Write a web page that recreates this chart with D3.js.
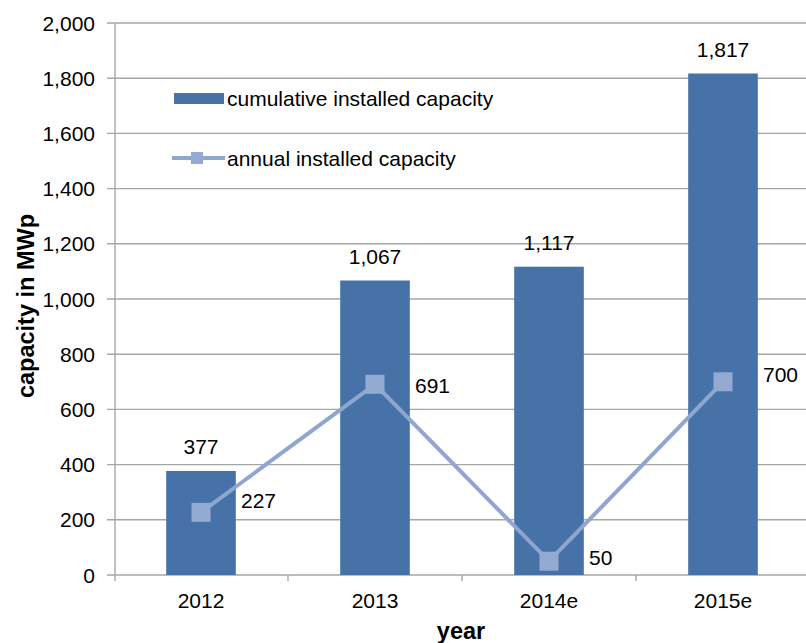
<!DOCTYPE html>
<html>
<head>
<meta charset="utf-8">
<script src="https://cdn.jsdelivr.net/npm/d3@7/dist/d3.min.js"></script>
<style>
  html, body { margin: 0; padding: 0; background: #fff; }
  svg { display: block; font-family: "Liberation Sans", Arial, sans-serif; }
</style>
</head>
<body>
<svg id="chart" width="806" height="643"></svg>
<script>
const categories = ["2012", "2013", "2014e", "2015e"];
const cumulative = [377, 1067, 1117, 1817];
const annual = [227, 691, 50, 700];
const yTicks = [0, 200, 400, 600, 800, 1000, 1200, 1400, 1600, 1800, 2000];
const seriesNames = ["cumulative installed capacity", "annual installed capacity"];

// layout-only nudges for the line value labels (vertical, px)
const lineLabelNudge = [-12, 1, -4, -7];

const barColor = "#4672a7";
const lineColor = "#8fa6cf";
const markerColor = "#93aad3";
const gridColor = "#a6a6a6";
const fs = 21;

const svg = d3.select("#chart");
const pLeft = 114, pRight = 810, pTop = 23, pBottom = 575;

const x = d3.scaleBand().domain(categories).range([pLeft, pRight]).paddingInner(0.6).paddingOuter(0.3);
const xb = d3.scaleBand().domain(categories).range([pLeft, pRight]);
const y = d3.scaleLinear().domain([0, 2000]).range([pBottom, pTop]);
const fmt = d3.format(",");

// gridlines
svg.append("g").selectAll("line").data(yTicks).join("line")
  .attr("x1", pLeft - 7).attr("x2", 806)
  .attr("y1", d => y(d)).attr("y2", d => y(d))
  .attr("stroke", gridColor).attr("stroke-width", 1.4);

// y axis line
svg.append("line").attr("x1", pLeft + 1).attr("x2", pLeft + 1)
  .attr("y1", pTop).attr("y2", pBottom + 6)
  .attr("stroke", gridColor).attr("stroke-width", 1.4);

// x tick marks
svg.append("g").selectAll("line").data(categories.slice(1)).join("line")
  .attr("x1", d => xb(d)).attr("x2", d => xb(d))
  .attr("y1", pBottom).attr("y2", pBottom + 6)
  .attr("stroke", gridColor).attr("stroke-width", 1.4);

// y tick labels
svg.append("g").selectAll("text").data(yTicks).join("text")
  .attr("x", 95).attr("y", d => y(d)).attr("dy", "0.36em")
  .attr("text-anchor", "end").attr("font-size", fs).attr("fill", "#000")
  .text(d => fmt(d));

// x tick labels
svg.append("g").selectAll("text").data(categories).join("text")
  .attr("x", d => xb(d) + xb.bandwidth() / 2).attr("y", 608)
  .attr("text-anchor", "middle").attr("font-size", fs).attr("fill", "#000")
  .text(d => d);

// bars
svg.append("g").selectAll("rect").data(categories).join("rect")
  .attr("x", d => x(d)).attr("width", x.bandwidth())
  .attr("y", (d, i) => y(cumulative[i]))
  .attr("height", (d, i) => pBottom - y(cumulative[i]))
  .attr("fill", barColor);

// bar labels
svg.append("g").selectAll("text").data(categories).join("text")
  .attr("x", d => x(d) + x.bandwidth() / 2)
  .attr("y", (d, i) => y(cumulative[i]) - 17)
  .attr("text-anchor", "middle").attr("font-size", fs).attr("fill", "#000")
  .text((d, i) => fmt(cumulative[i]));

// line
const cx = d => xb(d) + xb.bandwidth() / 2;
const line = d3.line().x(d => cx(d.c)).y(d => y(d.v));
const pts = categories.map((c, i) => ({ c, v: annual[i], i }));
svg.append("path").datum(pts).attr("d", line)
  .attr("fill", "none").attr("stroke", lineColor).attr("stroke-width", 4);

svg.append("g").selectAll("rect").data(pts).join("rect")
  .attr("x", d => cx(d.c) - 9.5).attr("y", d => y(d.v) - 9.5)
  .attr("width", 19).attr("height", 19).attr("fill", markerColor);

// line labels
svg.append("g").selectAll("text").data(pts).join("text")
  .attr("x", d => cx(d.c) + 40)
  .attr("y", d => y(d.v) + lineLabelNudge[d.i])
  .attr("dy", "0.36em")
  .attr("font-size", fs).attr("fill", "#000")
  .text(d => fmt(d.v));

// legend
const lg = svg.append("g");
lg.append("rect").attr("x", 174).attr("y", 93).attr("width", 50).attr("height", 11).attr("fill", barColor);
lg.append("text").attr("x", 227).attr("y", 106).attr("font-size", fs).text(seriesNames[0]);
lg.append("line").attr("x1", 172).attr("x2", 225).attr("y1", 158).attr("y2", 158)
  .attr("stroke", lineColor).attr("stroke-width", 4);
lg.append("rect").attr("x", 191).attr("y", 152).attr("width", 12).attr("height", 12).attr("fill", markerColor);
lg.append("text").attr("x", 227).attr("y", 166).attr("font-size", fs).text(seriesNames[1]);

// axis titles
svg.append("text").attr("transform", "translate(34,306) rotate(-90)")
  .attr("text-anchor", "middle").attr("font-size", 23.5).attr("font-weight", "bold")
  .text("capacity in MWp");
svg.append("text").attr("x", 461).attr("y", 639)
  .attr("text-anchor", "middle").attr("font-size", 23.5).attr("font-weight", "bold")
  .text("year");
</script>
</body>
</html>
